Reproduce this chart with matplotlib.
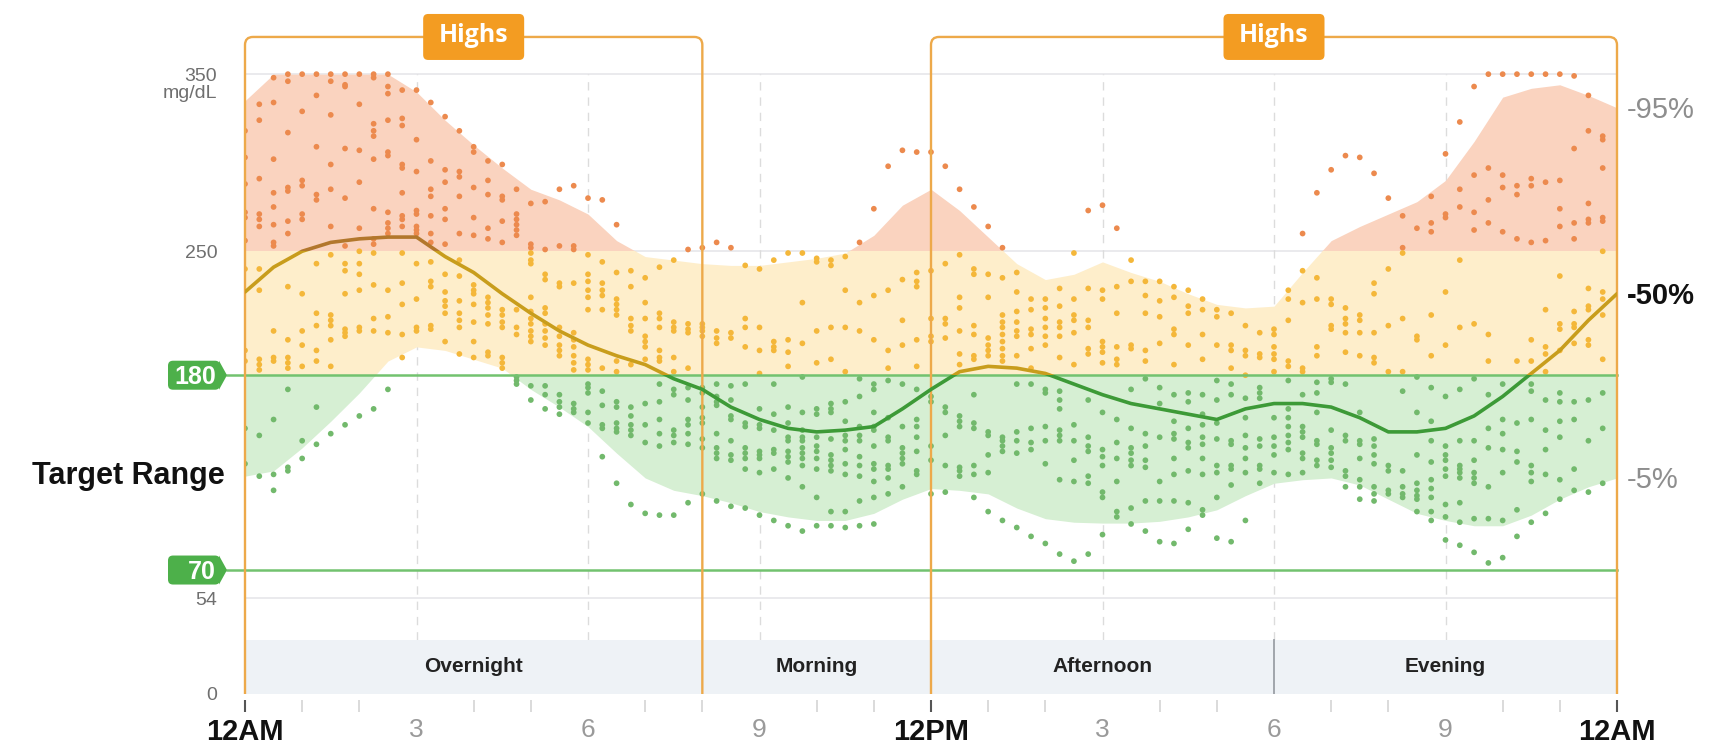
import matplotlib

matplotlib.use("Agg")
import matplotlib.pyplot as plt
import matplotlib.transforms as mtransforms
import numpy as np
from matplotlib.patches import FancyBboxPatch, Polygon, Rectangle

plt.rcParams["font.family"] = ["Liberation Sans", "DejaVu Sans"]

# glucose readings (mg/dL), one list per 15 minute slot
overnight = [  # 12:00AM .. 7:45AM
    [318, 303, 288, 272, 269, 256, 240, 194, 188, 150, 130],
    [333, 324, 291, 271, 268, 264, 240, 228, 189, 186, 183, 146, 123],
    [348, 334, 302, 283, 275, 265, 255, 253, 205, 190, 188, 155, 124, 115],
    [350, 346, 317, 286, 284, 267, 260, 230, 200, 190, 187, 184, 172, 128, 126],
    [350, 329, 290, 287, 271, 268, 226, 205, 197, 185, 143, 133],
    [350, 338, 309, 282, 279, 243, 215, 208, 194, 188, 162, 141],
    [350, 346, 327, 299, 285, 264, 248, 214, 211, 208, 200, 185, 147],
    [350, 344, 343, 308, 280, 253, 243, 239, 226, 206, 204, 202, 152],
    [350, 333, 307, 289, 263, 250, 243, 237, 228, 207, 205, 157],
    [350, 348, 322, 318, 315, 302, 274, 257, 254, 249, 231, 212, 205, 161],
    [350, 343, 339, 324, 306, 304, 272, 266, 263, 260, 228, 213, 204, 172],
    [341, 325, 321, 299, 297, 283, 270, 268, 264, 249, 232, 220, 203, 190],
    [341, 313, 295, 273, 271, 264, 262, 260, 243, 223, 207, 205],
    [334, 301, 285, 281, 270, 260, 255, 244, 233, 230, 208, 206],
    [326, 296, 289, 274, 268, 254, 237, 227, 222, 219, 215, 199],
    [318, 295, 292, 281, 260, 245, 236, 222, 215, 211, 207, 192],
    [309, 306, 286, 269, 259, 231, 228, 226, 220, 210, 199, 190],
    [301, 290, 282, 263, 257, 224, 221, 218, 214, 209, 193, 191],
    [299, 281, 279, 267, 255, 217, 214, 210, 207, 190, 187, 184],
    [285, 271, 268, 265, 262, 259, 217, 207, 203, 179, 177, 175],
    [277, 254, 252, 249, 245, 243, 224, 216, 212, 209, 205, 202, 199, 174, 166],
    [278, 251, 237, 234, 218, 215, 209, 205, 201, 197, 174, 169, 161],
    [285, 253, 232, 230, 207, 202, 197, 194, 191, 169, 165, 162, 158],
    [287, 253, 251, 232, 204, 200, 196, 191, 187, 183, 164, 161, 159],
    [280, 248, 237, 233, 228, 224, 217, 189, 186, 183, 175, 173, 170, 159, 153],
    [279, 244, 232, 228, 225, 217, 184, 171, 163, 152, 150, 134],
    [265, 238, 223, 220, 217, 214, 188, 182, 165, 162, 153, 150, 148, 119],
    [239, 230, 212, 208, 205, 186, 162, 157, 152, 149, 146, 107],
    [235, 221, 212, 202, 199, 196, 189, 164, 152, 142, 102],
    [241, 215, 212, 207, 194, 190, 188, 175, 165, 155, 147, 140, 101],
    [245, 210, 207, 205, 190, 182, 172, 169, 149, 146, 142, 101],
    [251, 209, 206, 204, 184, 173, 166, 155, 152, 147, 141, 108],
]
morning = [  # 8:00AM .. 11:45AM
    [252, 209, 207, 205, 202, 173, 170, 162, 156, 153, 144, 139, 113],
    [255, 205, 201, 198, 175, 168, 165, 163, 147, 139, 136, 133, 109],
    [252, 204, 201, 174, 166, 157, 155, 143, 135, 132, 106],
    [242, 212, 207, 196, 175, 153, 151, 139, 136, 133, 127, 105],
    [240, 207, 194, 181, 161, 152, 150, 137, 135, 133, 125, 101],
    [245, 199, 196, 194, 175, 158, 149, 138, 136, 127, 98],
    [249, 200, 193, 185, 162, 153, 145, 143, 137, 134, 131, 122, 95],
    [249, 221, 198, 179, 159, 149, 145, 143, 139, 136, 133, 129, 117, 92],
    [246, 244, 205, 187, 161, 158, 145, 140, 137, 133, 127, 111, 95],
    [245, 242, 207, 189, 164, 161, 159, 144, 135, 132, 129, 126, 103, 95],
    [247, 228, 207, 182, 165, 154, 146, 143, 138, 130, 124, 103, 94],
    [255, 221, 205, 178, 168, 151, 146, 143, 134, 129, 123, 109, 95],
    [274, 225, 200, 175, 172, 159, 151, 149, 140, 130, 127, 120, 111, 96],
    [298, 228, 194, 184, 177, 156, 145, 143, 129, 127, 122, 113],
    [307, 234, 211, 197, 175, 151, 139, 136, 133, 130, 117],
    [306, 238, 233, 230, 200, 185, 172, 155, 151, 145, 137, 126, 124],
]
afternoon = [  # 12:00PM .. 5:45PM
    [306, 239, 212, 202, 199, 168, 165, 140, 132, 113],
    [298, 243, 212, 209, 201, 162, 159, 146, 129, 114],
    [285, 248, 224, 218, 205, 192, 186, 157, 154, 151, 128, 126, 123],
    [275, 240, 237, 208, 203, 191, 189, 169, 153, 150, 129, 124, 111],
    [264, 237, 224, 201, 197, 194, 191, 148, 146, 135, 125, 103],
    [252, 235, 214, 210, 207, 203, 199, 195, 191, 188, 145, 143, 140, 137, 98],
    [238, 227, 216, 210, 205, 202, 191, 175, 148, 143, 136, 94],
    [223, 217, 206, 203, 195, 184, 175, 150, 142, 138, 89],
    [223, 218, 212, 207, 202, 197, 172, 170, 151, 143, 130, 85],
    [229, 219, 210, 207, 202, 190, 171, 166, 161, 149, 146, 143, 121, 79],
    [249, 223, 214, 211, 204, 186, 152, 143, 132, 120, 75],
    [273, 229, 211, 207, 195, 192, 166, 145, 140, 137, 123, 119, 79],
    [276, 228, 223, 199, 196, 193, 187, 159, 138, 134, 129, 114, 111, 90],
    [263, 230, 215, 196, 189, 186, 155, 142, 133, 120, 103, 100],
    [245, 233, 197, 195, 172, 150, 139, 136, 132, 129, 105, 96],
    [233, 225, 215, 194, 188, 178, 147, 140, 132, 128, 109, 92],
    [233, 222, 213, 198, 173, 164, 145, 120, 109, 86],
    [230, 224, 206, 203, 186, 169, 154, 147, 144, 133, 124, 109, 85],
    [228, 219, 215, 197, 170, 165, 150, 142, 139, 126, 108, 93],
    [223, 217, 203, 189, 169, 158, 152, 145, 141, 133, 124, 104, 101],
    [217, 213, 197, 177, 166, 153, 144, 129, 125, 111, 88],
    [215, 197, 194, 184, 175, 169, 143, 141, 129, 127, 118, 86],
    [208, 194, 191, 180, 167, 156, 146, 139, 133, 125, 98],
    [204, 192, 190, 173, 170, 167, 144, 140, 129, 127, 119],
]
evening = [  # 6:00PM .. 11:45PM
    [206, 203, 196, 192, 189, 182, 156, 145, 140, 135, 125],
    [228, 223, 211, 188, 185, 177, 161, 156, 151, 146, 142, 138, 124],
    [260, 239, 221, 184, 182, 169, 151, 148, 145, 136, 133, 125],
    [283, 235, 223, 196, 191, 176, 170, 159, 143, 141, 132, 129],
    [296, 223, 220, 208, 206, 178, 176, 149, 139, 136, 132, 128],
    [304, 218, 212, 209, 204, 193, 175, 146, 143, 126, 123, 117],
    [303, 214, 211, 204, 191, 159, 143, 141, 133, 121, 117, 110],
    [294, 232, 226, 204, 190, 187, 144, 140, 135, 130, 117, 113, 109],
    [280, 240, 208, 182, 129, 126, 115, 113],
    [270, 252, 249, 212, 182, 171, 126, 117, 113, 111],
    [263, 202, 200, 179, 159, 135, 119, 115, 112, 110, 103],
    [281, 266, 261, 214, 191, 173, 154, 143, 131, 121, 116, 111, 103, 98],
    [305, 271, 269, 227, 197, 168, 140, 135, 132, 127, 123, 107, 100, 87],
    [323, 285, 275, 245, 207, 172, 143, 129, 127, 125, 122, 108, 97, 84],
    [343, 293, 272, 262, 209, 178, 143, 132, 125, 122, 119, 99, 80],
    [350, 297, 279, 266, 203, 188, 169, 150, 139, 117, 99, 74],
    [350, 293, 286, 261, 175, 155, 147, 138, 125, 98, 77],
    [350, 287, 282, 257, 188, 153, 137, 131, 104, 89],
    [350, 291, 287, 255, 200, 188, 175, 171, 155, 129, 125, 120, 97],
    [350, 289, 256, 217, 196, 192, 182, 166, 149, 138, 124, 102],
    [350, 290, 274, 264, 236, 209, 206, 194, 170, 165, 154, 145, 121, 110],
    [349, 308, 266, 257, 216, 209, 207, 198, 165, 155, 127, 115],
    [338, 318, 277, 268, 266, 229, 219, 217, 200, 197, 166, 143, 114],
    [315, 313, 297, 269, 267, 250, 227, 223, 214, 189, 170, 150, 119],
]

# percentile curves, every half hour from 12AM to 12AM
pct_hours = np.arange(0, 24.5, 0.5)
p95 = [335, 350, 350, 350, 350, 350, 340, 324, 310, 297, 285, 279, 271, 256,
       247, 245, 243, 242, 242, 244, 246, 249, 259, 276, 285, 273, 258, 243,
       234, 237, 244, 238, 233, 226, 220, 218, 219, 238, 256, 264, 271, 278,
       290, 312, 337, 342, 344, 338, 331]
p50 = [227, 241, 250, 255, 257, 258, 258, 247, 238, 226, 215, 205, 197, 191,
       186, 178, 172, 162, 155, 150, 148, 149, 151, 161, 172, 182, 185, 184,
       181, 175, 169, 164, 161, 158, 155, 161, 164, 164, 162, 156, 148, 148,
       150, 157, 168, 181, 194, 211, 226]
p5 = [123, 126, 139, 154, 170, 188, 196, 194, 189, 184, 172, 162, 151, 136,
      122, 115, 112, 108, 103, 100, 98, 98, 102, 110, 116, 115, 113, 105,
      99, 97, 96.5, 96.5, 97.5, 100, 104, 112, 119, 121, 122, 118, 110, 102,
      98, 95, 95, 101, 110, 117, 122]

periods = ["Overnight", "Morning", "Afternoon", "Evening"]
period_bounds = [0, 8, 12, 18, 24]
highs_spans = [(0, 8), (12, 24)]
target_low, target_high, very_high = 70, 180, 250
y_ticks = [0, 54, 250, 350]
hour_ticks = [0, 3, 6, 9, 12, 15, 18, 21, 24]
hour_labels = ["12AM", "3", "6", "9", "12PM", "3", "6", "9", "12AM"]
pct_labels = ["95%", "50%", "5%"]

# layout in pixels of the 1725x748 output
W, H = 1725, 748
left_px, bottom_px, width_px = 245, 54, 1372
px_per_unit = 1.771
ymax = 390
height_px = ymax * px_per_unit
band_top = 30.5
box_top = 371

fig = plt.figure(figsize=(W / 100, H / 100), dpi=100)
ax = fig.add_axes([left_px / W, bottom_px / H, width_px / W, height_px / H])
ax.set_xlim(0, 24)
ax.set_ylim(0, ymax)
for s in ax.spines.values():
    s.set_visible(False)

# grid
for v in (350, 250, 54):
    ax.plot([0, 24], [v, v], color="#e6e6ea", lw=1.2, zorder=0.5)
for h in (3, 6, 9, 15, 18, 21):
    ax.plot([h, h], [band_top, 350], color="#dcdcdc", lw=1, ls=(0, (6, 5)), zorder=0.5)

# percentile band, coloured by zone
zones = [(very_high, 400, "#fad3bf"), (target_high, very_high, "#feeecb"), (0, target_high, "#d6efd3")]
for lo, hi, c in zones:
    poly = ax.fill_between(pct_hours, p5, p95, color=c, lw=0, zorder=1)
    poly.set_clip_path(Rectangle((0, lo), 24, hi - lo, transform=ax.transData))

# readings
slots = overnight + morning + afternoon + evening
slot_hours = np.arange(len(slots)) * 0.25
xs = np.concatenate([np.full(len(s), h) for s, h in zip(slots, slot_hours)])
ys = np.concatenate([np.asarray(s, dtype=float) for s in slots])
dot_colors = np.where(ys > very_high, "#ec8a4e", np.where(ys >= target_high, "#f4b73a", "#72b96c"))
ax.scatter(xs, ys, s=17, c=dot_colors, linewidths=0, zorder=2)

# median line, coloured by zone
line_zones = [(very_high, 400, "#b2772c"), (target_high, very_high, "#c89d1c"), (0, target_high, "#3d9a37")]
for lo, hi, c in line_zones:
    (ln,) = ax.plot(pct_hours, p50, color=c, lw=2.6, zorder=5, solid_capstyle="round",
                    solid_joinstyle="round")
    ln.set_clip_path(Rectangle((0, lo), 24, hi - lo, transform=ax.transData))

# period band
ax.add_patch(Rectangle((0, 0), 24, band_top, fc="#eef2f6", ec="none", zorder=1))
for name, a, b in zip(periods, period_bounds[:-1], period_bounds[1:]):
    ax.text((a + b) / 2, band_top / 2, name, ha="center", va="center",
            fontsize=15, fontweight="bold", color="#222222", zorder=3)
ax.plot([18, 18], [0, band_top], color="#9aa0a6", lw=1.3, zorder=3)

# target range lines and tags
ytf = ax.get_yaxis_transform()
for v in (target_low, target_high):
    ax.plot([-18 / width_px, 1], [v, v], transform=ytf, color="#72c26f", lw=1.8,
            clip_on=False, zorder=3)
    tr = fig.dpi_scale_trans + mtransforms.ScaledTranslation(0, v, ax.transData)
    ax.add_patch(FancyBboxPatch((-0.77, -0.145), 0.52, 0.29, boxstyle="round,pad=0,rounding_size=0.05",
                                transform=tr, fc="#4db04a", ec="none", clip_on=False, zorder=6))
    ax.add_patch(Polygon([(-0.26, -0.145), (-0.18, 0), (-0.26, 0.145)], closed=True, transform=tr,
                         fc="#4db04a", ec="none", clip_on=False, zorder=6))
    ax.text(-0.29, -0.09, str(v), transform=tr, ha="right", va="baseline", color="white",
            fontsize=18, fontweight="bold", zorder=7)

# highs boxes
y_per_px = 1 / px_per_unit
x_per_px = 24 / width_px
for a, b in highs_spans:
    box = FancyBboxPatch((a, -20), b - a, box_top + 20,
                         boxstyle=f"round,pad=0,rounding_size={8 * x_per_px}",
                         mutation_aspect=y_per_px / x_per_px,
                         fc="none", ec="#eda94a", lw=1.7, zorder=4, clip_on=True)
    ax.add_patch(box)
    box.set_clip_path(Rectangle((-1, 0), 26, 400, transform=ax.transData))
    tr = fig.dpi_scale_trans + mtransforms.ScaledTranslation((a + b) / 2, box_top, ax.transData)
    ax.add_patch(FancyBboxPatch((-0.505, -0.23), 1.01, 0.46, boxstyle="round,pad=0,rounding_size=0.05",
                                transform=tr, fc="#f39c22", ec="none", clip_on=False, zorder=6))
    ax.text(0, 0.01, "Highs", transform=tr, ha="center", va="center", color="white",
            fontsize=18, fontweight="bold", family=["Open Sans", "DejaVu Sans"], zorder=7)

# y axis labels
ax.set_yticks(y_ticks)
ax.tick_params(axis="y", length=0, pad=20, labelsize=14, labelcolor="#6f6f6f")
ax.annotate("mg/dL", xy=(0, 350), xycoords="data", xytext=(-20, -8), textcoords="offset points",
            ha="right", va="top", fontsize=14, color="#6f6f6f")
ftr = mtransforms.blended_transform_factory(fig.transFigure, ax.transData)
ax.annotate("Target Range", xy=(32 / W, (target_low + target_high) / 2), xycoords=ftr,
            xytext=(0, -8), textcoords="offset points", ha="left", va="baseline",
            fontsize=22, fontweight="bold", color="#111111")

# x axis
ax.set_xticks(hour_ticks, hour_labels)
ax.tick_params(axis="x", length=0, pad=17)
for lab in ax.get_xticklabels():
    if lab.get_text().startswith("12"):
        lab.set_fontsize(21)
        lab.set_fontweight("bold")
        lab.set_color("#111111")
    else:
        lab.set_fontsize(19)
        lab.set_color("#9a9a9a")
xtf = ax.get_xaxis_transform()
minor_hours = [h for h in range(25) if h % 3 != 0]
ax.vlines(minor_hours, -6 / height_px, -18 / height_px, transform=xtf, colors="#d4d4d4",
          lw=1.2, clip_on=False)
ax.vlines([0, 12, 24], -6 / height_px, -18 / height_px, transform=xtf, colors="#555555",
          lw=1.5, clip_on=False)

# percentile labels on the right
for val, lab in zip([p95[-1], p50[-1], p5[-1]], pct_labels):
    bold = lab == "50%"
    ax.annotate(f"-{lab}", xy=(24, val), xytext=(7, -7.5), textcoords="offset points",
                ha="left", va="baseline", fontsize=21,
                fontweight="bold" if bold else "normal",
                color="#111111" if bold else "#8e8e8e")

fig.savefig("out.png", dpi=100)
